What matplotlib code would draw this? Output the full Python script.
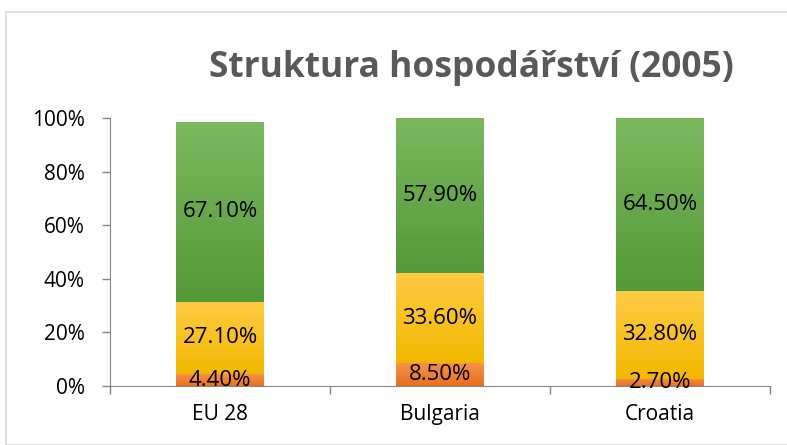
import numpy as np
import matplotlib.pyplot as plt
from matplotlib.colors import LinearSegmentedColormap
from matplotlib.patches import Rectangle

# chart data
categories = ["EU 28", "Bulgaria", "Croatia"]
primary = [4.4, 8.5, 2.7]      # orange, bottom
secondary = [27.1, 33.6, 32.8]  # yellow, middle
tertiary = [67.1, 57.9, 64.5]   # green, top
yticks = [0, 20, 40, 60, 80, 100]

series = [primary, secondary, tertiary]
# (top colour, bottom colour) for each gradient
grads = [("#F4924A", "#E86F1E"), ("#FFCB45", "#F2B800"), ("#7CB85F", "#54993A")]

fig = plt.figure(figsize=(7.87, 4.45), dpi=100)
ax = fig.add_axes([110 / 787, 1 - 386 / 445, 660 / 787, 268 / 445])

# outer chart border
fig.patches.append(Rectangle((6 / 787, 0), 1, 1 - 12 / 445, transform=fig.transFigure,
                             fill=False, edgecolor="#D9D9D9", linewidth=1.2))

x = np.arange(len(categories))
width = 0.4
bottom = np.zeros(len(categories))
for vals, (top_c, bot_c) in zip(series, grads):
    cmap = LinearSegmentedColormap.from_list("g", [bot_c, top_c])
    grad = np.linspace(0, 1, 64).reshape(-1, 1)
    for i, v in enumerate(vals):
        ax.imshow(grad, cmap=cmap, origin="lower", aspect="auto",
                  extent=(x[i] - width / 2, x[i] + width / 2, bottom[i], bottom[i] + v),
                  zorder=2)
        ax.text(x[i], bottom[i] + v / 2, "%.2f%%" % v, ha="center", va="center",
                fontsize=16, family="Open Sans", color="black", zorder=3)
    bottom += np.array(vals)

ax.set_xlim(-0.5, len(categories) - 0.5)
ax.set_ylim(0, 100)
ax.set_yticks(yticks)
ax.set_yticklabels(["%d%%" % t for t in yticks])
ax.set_xticks(x)
ax.set_xticklabels(categories)
# tick marks between the categories
ax.set_xticks(np.arange(len(categories) + 1) - 0.5, minor=True)
ax.tick_params(axis="x", which="minor", length=6, width=1, color="#868686")
ax.tick_params(axis="both", labelsize=15, colors="#868686", length=6, width=1)
for lab in ax.get_xticklabels() + ax.get_yticklabels():
    lab.set_color("black")
    lab.set_family("Open Sans")
ax.tick_params(axis="x", which="major", length=0, pad=13)
ax.tick_params(axis="y", direction="out", pad=12)

for side in ["top", "right"]:
    ax.spines[side].set_visible(False)
ax.spines["left"].set_color("#868686")
ax.spines["bottom"].set_color("#868686")

fig.text(471 / 787, 1 - 68 / 445, "Struktura hospodářství (2005)", ha="center", va="center",
         fontsize=25.5, fontweight="bold", family="Open Sans", color="#595959")

fig.savefig("out.png", dpi=100)
